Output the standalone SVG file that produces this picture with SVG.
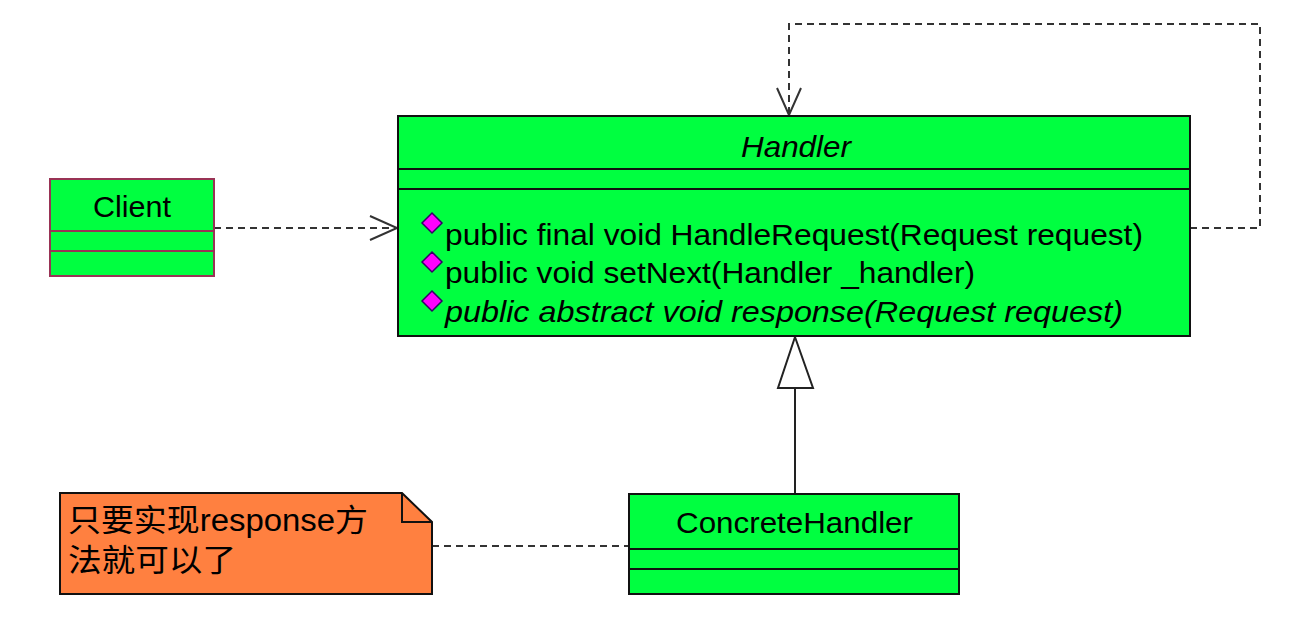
<svg xmlns="http://www.w3.org/2000/svg" width="1300" height="618" viewBox="0 0 1300 618">
<style>
.box{fill:#00FF40;stroke:#111;stroke-width:2}
.cbox{fill:#00FF40;stroke:#993355;stroke-width:2}
.div{stroke:#111;stroke-width:2}
.cdiv{stroke:#993355;stroke-width:2}
.t{font-family:"Liberation Sans",Arial,sans-serif;font-size:29px;fill:#000}
.i{font-style:italic}
.dash{fill:none;stroke:#333;stroke-width:2;stroke-dasharray:7 5}
.solid{fill:none;stroke:#222;stroke-width:2}
.dia{fill:#FF00FF;stroke:#330066;stroke-width:1.5}
.note{font-family:"Liberation Sans","Noto Sans CJK SC",sans-serif;font-size:31px;fill:#000}
</style>
<defs>
<marker id="open" markerWidth="32" markerHeight="28" refX="28" refY="14" orient="auto" markerUnits="userSpaceOnUse">
<path d="M1,2 L28,14 L1,26" fill="none" stroke="#333" stroke-width="2"/>
</marker>
</defs>
<rect width="1300" height="618" fill="#fff"/>
<g id="connectors">
<path class="dash" d="M214,228 H397" marker-end="url(#open)"/>
<path class="dash" d="M1190,228 H1260 V24 H789 V115" marker-end="url(#open)"/>
<path class="solid" d="M795,388 V494"/>
<polygon points="795,337 778,388 813,388" fill="#fff" stroke="#222" stroke-width="2"/>
<path class="dash" d="M432,546 H629"/>
</g>
<g id="client">
<rect class="cbox" x="50" y="179" width="164" height="97"/>
<line class="cdiv" x1="50" y1="231" x2="214" y2="231"/>
<line class="cdiv" x1="50" y1="251" x2="214" y2="251"/>
<text class="t" x="93" y="217" textLength="78" lengthAdjust="spacingAndGlyphs">Client</text>
</g>
<g id="handler">
<rect class="box" x="398" y="116" width="792" height="220"/>
<line class="div" x1="398" y1="169" x2="1190" y2="169"/>
<line class="div" x1="398" y1="189" x2="1190" y2="189"/>
<text class="t i" x="741" y="157" textLength="110" lengthAdjust="spacingAndGlyphs">Handler</text>
<polygon class="dia" points="432,213 442,223 432,233 422,223"/>
<polygon class="dia" points="432,252 442,262 432,272 422,262"/>
<polygon class="dia" points="432,291 442,301 432,311 422,301"/>
<text class="t" x="445" y="245" textLength="698" lengthAdjust="spacingAndGlyphs">public final void HandleRequest(Request request)</text>
<text class="t" x="445" y="283" textLength="530" lengthAdjust="spacingAndGlyphs">public void setNext(Handler _handler)</text>
<text class="t i" x="445" y="322" textLength="678" lengthAdjust="spacingAndGlyphs">public abstract void response(Request request)</text>
</g>
<g id="concretehandler">
<rect class="box" x="629" y="494" width="330" height="100"/>
<line class="div" x1="629" y1="549" x2="959" y2="549"/>
<line class="div" x1="629" y1="569" x2="959" y2="569"/>
<text class="t" x="676" y="533" textLength="237" lengthAdjust="spacingAndGlyphs">ConcreteHandler</text>
</g>
<g id="note">
<path d="M60,493 H402 L432,522 V594 H60 Z" fill="#FF8040" stroke="#111" stroke-width="2"/>
<path d="M402,493 V522 H432" fill="none" stroke="#111" stroke-width="2"/>
<text class="note" x="68" y="531" textLength="300" lengthAdjust="spacingAndGlyphs">只要实现response方</text>
<text class="note" x="68" y="571" textLength="168" lengthAdjust="spacingAndGlyphs">法就可以了</text>
</g>
</svg>
